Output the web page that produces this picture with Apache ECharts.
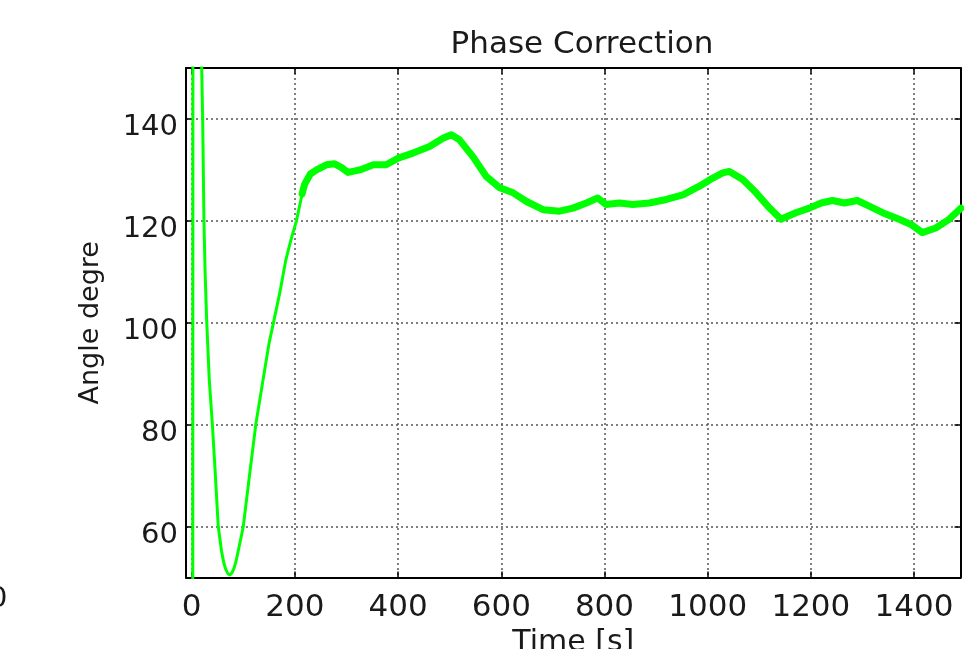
<!DOCTYPE html>
<html>
<head>
<meta charset="utf-8">
<script src="https://cdn.jsdelivr.net/npm/echarts@6/dist/echarts.min.js"></script>
<style>
html,body{margin:0;padding:0;background:#fff;}
#chart{width:964px;height:649px;}
</style>
</head>
<body>
<div id="chart"></div>
<script>
// ---- data ----
const titleText = 'Phase Correction';
const xName = 'Time [s]';
const yName = 'Angle degre';
const xTicks = [0, 200, 400, 600, 800, 1000, 1200, 1400];
const yTicks = [60, 80, 100, 120, 140];
const xRange = [-11, 1490];
const yRange = [50, 150];

// early transient (t, angle)
const transientT = [2, 3, 10, 16, 19.4, 21.3, 23.8, 26, 29, 34, 40, 46, 51.5, 58, 62, 66, 70, 74, 78, 82, 86, 90, 95, 100, 112, 124.5, 137, 150, 160, 171, 182.6, 193, 203, 212, 219];
const transientV = [0, 400, 330, 220, 150, 140, 120, 110, 100.7, 89, 80.2, 70, 60, 55.1, 53, 51.6, 50.8, 50.5, 50.9, 51.8, 53.2, 55.1, 57.5, 60, 70, 80.2, 88, 96, 100.7, 106, 112.4, 116.5, 120, 124.3, 127];

// noisy settled part (t, angle)
const settledT = [214, 219, 230, 242, 261, 277, 290, 303, 326, 352, 377, 400, 429, 461, 487, 503, 519, 545, 571, 597, 623, 649, 681, 713, 739, 765, 787, 803, 829, 855, 887, 920, 952, 984, 1010, 1029, 1042, 1068, 1094, 1120, 1142, 1171, 1197, 1220, 1242, 1265, 1290, 1313, 1339, 1371, 1394, 1416, 1442, 1468, 1491];
const settledV = [125.3, 127.2, 129.2, 130, 131, 131.2, 130.5, 129.5, 130, 131, 131, 132.3, 133.3, 134.6, 136.2, 136.9, 135.9, 132.6, 128.7, 126.5, 125.5, 123.8, 122.2, 121.9, 122.5, 123.5, 124.5, 123.2, 123.5, 123.2, 123.5, 124.2, 125.1, 126.8, 128.4, 129.4, 129.7, 128.1, 125.5, 122.5, 120.3, 121.6, 122.5, 123.5, 124, 123.5, 124, 122.9, 121.6, 120.3, 119.3, 117.7, 118.6, 120.3, 122.5];

const pairs = (ts, vs) => ts.map((t, i) => [t, vs[i]]);

const FONT = 'DejaVu Sans';
const TXT = '#1a1a1a';
const GREEN = '#00ff00';

const gridLine = { show: true, lineStyle: { color: '#555', width: 1.5, type: [2, 3] } };
const frameLine = { show: true, onZero: false, lineStyle: { color: '#000', width: 2 } };
const plain = v => String(v);

const chart = echarts.init(document.getElementById('chart'), null, { renderer: 'canvas' });
chart.setOption({
  animation: false,
  backgroundColor: '#fff',
  title: {
    text: titleText,
    left: 577, top: 24, textAlign: 'center',
    textStyle: { fontFamily: FONT, fontSize: 31, fontWeight: 'normal', color: TXT }
  },
  grid: { left: 186, right: 3.5, top: 68, bottom: 71.5, containLabel: false, outerBoundsMode: 'none' },
  xAxis: [{
    type: 'value', min: xRange[0], max: xRange[1], position: 'bottom',
    name: xName, nameLocation: 'middle', nameGap: 47,
    nameTextStyle: { fontFamily: FONT, fontSize: 30, color: TXT },
    axisLine: frameLine,
    axisTick: { show: true, inside: true, length: 6, customValues: xTicks, lineStyle: { color: '#000', width: 1.5 } },
    axisLabel: { customValues: xTicks, formatter: plain, margin: 15, fontFamily: FONT, fontSize: 31, color: TXT },
    splitLine: gridLine
  }, {
    type: 'value', min: xRange[0], max: xRange[1], position: 'top',
    axisLine: frameLine,
    axisTick: { show: true, inside: true, length: 6, customValues: xTicks, lineStyle: { color: '#000', width: 1.5 } },
    axisLabel: { show: false, customValues: xTicks },
    splitLine: { show: false }
  }],
  yAxis: [{
    type: 'value', min: yRange[0], max: yRange[1], position: 'left',
    name: yName, nameLocation: 'middle', nameGap: 82, nameRotate: 90,
    nameTextStyle: { fontFamily: FONT, fontSize: 27, color: TXT },
    axisLine: frameLine,
    axisTick: { show: true, inside: true, length: 6, customValues: yTicks, lineStyle: { color: '#000', width: 1.5 } },
    axisLabel: { customValues: yTicks, formatter: plain, margin: 8, verticalAlign: 'top', lineHeight: 18, fontFamily: FONT, fontSize: 29, color: TXT },
    splitLine: gridLine
  }, {
    type: 'value', min: yRange[0], max: yRange[1], position: 'right',
    axisLine: frameLine,
    axisTick: { show: true, inside: true, length: 6, customValues: yTicks, lineStyle: { color: '#000', width: 1.5 } },
    axisLabel: { show: false, customValues: yTicks },
    splitLine: { show: false }
  }],
  graphic: [{
    type: 'text', left: -11, top: 585,
    style: { text: '0', fontFamily: FONT, fontSize: 29, fill: TXT }
  }],
  series: [{
    type: 'line', xAxisIndex: 0, yAxisIndex: 0,
    data: pairs(transientT, transientV),
    showSymbol: false, smooth: false, clip: true,
    lineStyle: { color: GREEN, width: 3, join: 'round' }
  }, {
    type: 'line', xAxisIndex: 0, yAxisIndex: 0,
    data: pairs(settledT, settledV),
    showSymbol: false, smooth: false, clip: true,
    lineStyle: { color: GREEN, width: 7, join: 'round', cap: 'round' }
  }]
});
</script>
</body>
</html>
